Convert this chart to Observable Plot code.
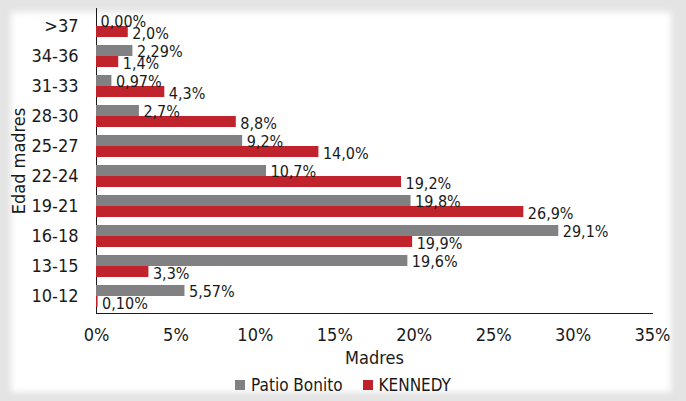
<!DOCTYPE html>
<html>
<head>
<meta charset="utf-8">
<script src="https://cdn.jsdelivr.net/npm/d3@7"></script>
<script src="https://cdn.jsdelivr.net/npm/@observablehq/plot@0.6"></script>
<style>
  html, body { margin: 0; padding: 0; }
  body { width: 686px; height: 401px; background: #e4e4e4; position: relative; overflow: hidden;
         font-family: "DejaVu Sans Condensed", "DejaVu Sans", sans-serif; }
  #panel { position: absolute; left: 11px; top: 12px; width: 660px; height: 380px; background: #fff;
           filter: blur(3px); }
  #chart { position: absolute; left: 0; top: 0; }
  #legend { position: absolute; left: 0; top: 375px; width: 686px; display: flex; justify-content: center;
            align-items: center; font-size: 17px; color: #1a1a1a; line-height: 20px; }
  #legend .item { display: flex; align-items: center; margin: 0 10px; }
  #legend .sw { width: 10px; height: 10px; margin-right: 6px; }
</style>
</head>
<body>
<div id="panel"></div>
<div id="chart"></div>
<div id="legend"></div>
<script>
const categories = [">37", "34-36", "31-33", "28-30", "25-27", "22-24", "19-21", "16-18", "13-15", "10-12"];
const patioBonito = [0.00, 2.29, 0.97, 2.7, 9.2, 10.7, 19.8, 29.1, 19.6, 5.57];
const kennedy = [2.0, 1.4, 4.3, 8.8, 14.0, 19.2, 26.9, 19.9, 3.3, 0.10];
const patioLabels = ["0,00%", "2,29%", "0,97%", "2,7%", "9,2%", "10,7%", "19,8%", "29,1%", "19,6%", "5,57%"];
const kennedyLabels = ["2,0%", "1,4%", "4,3%", "8,8%", "14,0%", "19,2%", "26,9%", "19,9%", "3,3%", "0,10%"];
const xTicks = [0, 5, 10, 15, 20, 25, 30, 35];
const seriesNames = ["Patio Bonito", "KENNEDY"];
const seriesColors = ["#818184", "#c0232b"];

const rows = categories.map((c, i) => ({
  cat: c, pb: patioBonito[i], ke: kennedy[i], pbLabel: patioLabels[i], keLabel: kennedyLabels[i]
}));

const chart = Plot.plot({
  width: 686,
  height: 372,
  marginLeft: 96,
  marginRight: 34,
  marginTop: 8,
  marginBottom: 59,
  style: { fontFamily: "'DejaVu Sans Condensed', 'DejaVu Sans', sans-serif", fontSize: "18px", background: "transparent", color: "#1a1a1a", overflow: "visible" },
  x: { domain: [0, 35], ticks: xTicks, tickFormat: d => d + "%", tickSize: 0, tickPadding: 15, line: true,
       label: "Madres", labelAnchor: "center", labelOffset: 50, labelArrow: "none" },
  y: { domain: categories, paddingInner: 0.28, paddingOuter: 0.14, tickSize: 0, tickPadding: 18, line: true,
       label: "Edad madres", labelAnchor: "center", labelOffset: 84, labelArrow: "none" },
  marks: [
    Plot.barX(rows, { x: "pb", y: "cat", fill: seriesColors[0], insetBottom: 11 }),
    Plot.barX(rows, { x: "ke", y: "cat", fill: seriesColors[1], insetTop: 11 }),
    Plot.text(rows, { x: "pb", y: "cat", text: "pbLabel", dx: 4, dy: -4.5, textAnchor: "start", fontSize: 16, fill: "#1a1a1a" }),
    Plot.text(rows, { x: "ke", y: "cat", text: "keLabel", dx: 4, dy: 7.5, textAnchor: "start", fontSize: 16, fill: "#1a1a1a" })
  ]
});
document.getElementById("chart").appendChild(chart);

const legend = document.getElementById("legend");
seriesNames.forEach((name, i) => {
  const item = document.createElement("div");
  item.className = "item";
  const sw = document.createElement("span");
  sw.className = "sw";
  sw.style.background = seriesColors[i];
  const label = document.createElement("span");
  label.textContent = name;
  item.appendChild(sw);
  item.appendChild(label);
  legend.appendChild(item);
});
</script>
</body>
</html>
